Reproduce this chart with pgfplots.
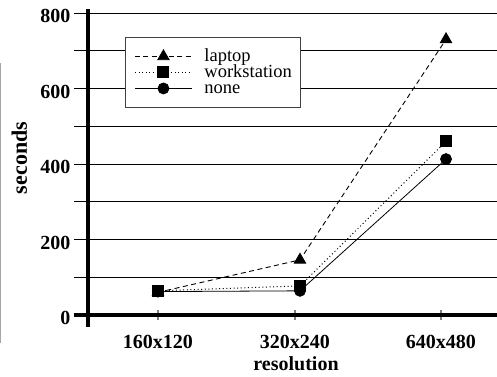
\documentclass[border=0pt]{standalone}
\usepackage{fontspec}
\setmainfont{Liberation Serif}
\usepackage{pgfplots}
\pgfplotsset{compat=1.18}
\begin{document}
\begin{tikzpicture}
\begin{axis}[
  scale only axis, width=409bp, height=302bp,
  xmin=-0.486, xmax=2.354, ymin=0, ymax=800,
  clip=false,
  axis line style={draw=none},
  /pgf/number format/assume math mode=true,
  xtick pos=left, ytick pos=left,
  ytick={0,100,...,800},
  yticklabels={0,,200,,400,,600,,800},
  ymajorgrids,
  grid style={black, line width=0.8bp},
  tick align=outside,
  major tick length=14bp,
  ytick style={black, line width=0.8bp},
  yticklabel style={font=\bfseries\fontsize{20bp}{24bp}\selectfont, yshift=-3bp},
  xtick=\empty,
  extra x ticks={0,0.951,1.965},
  extra x tick labels={160x120,320x240,640x480},
  extra tick style={grid=none, tick align=center, major tick length=10bp,
     tick style={gray, line width=1.2bp},
     tick label style={font=\bfseries\fontsize{20bp}{24bp}\selectfont, yshift=-12bp}},
  xlabel={resolution},
  ylabel={seconds},
  xlabel style={font=\bfseries\fontsize{20bp}{24bp}\selectfont, at={([yshift=-56bp]rel axis cs:0.5086,0)}, anchor=base},
  ylabel style={font=\bfseries\fontsize{22bp}{26bp}\selectfont, at={([xshift=-61bp]rel axis cs:0,0.52)}, anchor=base},
  legend style={at={(rel axis cs:0.0905,0.9205)}, anchor=north west,
     draw=black!75, line width=0.9bp, fill=white,
     font=\fontsize{18.5bp}{18bp}\selectfont,
     inner xsep=9bp, inner ysep=10bp,
     column sep=12bp, row sep=-2bp,
     nodes={inner sep=0bp, text height=14bp, text depth=4bp}},
  legend cell align=left,
  legend image code/.code={\draw[#1, mark repeat=2, mark phase=2] plot coordinates {(0bp,0bp)(28.5bp,0bp)(57bp,0bp)};},
]
\addplot[black, line width=0.9bp, dash pattern=on 5bp off 3.5bp, mark=triangle*, mark size=6.5bp, mark options={solid}]
  coordinates {(0,60) (0.986,146) (2,730)};
\addlegendentry{laptop}
\addplot[black, line width=1bp, dash pattern=on 1bp off 2.6bp, mark=square*, mark size=5.5bp, mark options={solid}]
  coordinates {(0,64) (0.986,77) (2,460)};
\addlegendentry{workstation}
\addplot[black, line width=0.8bp, mark=*, mark size=5.5bp]
  coordinates {(0,62) (0.986,64) (2,413)};
\addlegendentry{none}
\draw[black, line width=3.8bp] ([xshift=-14bp]rel axis cs:0,0) -- (rel axis cs:1,0);
\draw[black, line width=3.3bp] ([yshift=-12bp]rel axis cs:0,0) -- ([yshift=4bp]rel axis cs:0,1);
\draw[gray!70, line width=1bp] ([xshift=-87.5bp]rel axis cs:0,0.834) -- ([xshift=-87.5bp,yshift=-28bp]rel axis cs:0,0);
\coordinate (BL) at (rel axis cs:0,0);
\coordinate (TR) at (rel axis cs:1,1);
\end{axis}
\pgfresetboundingbox
\path ([xshift=-88bp,yshift=-62bp]BL) rectangle ([yshift=13bp]TR);
\end{tikzpicture}
\end{document}
